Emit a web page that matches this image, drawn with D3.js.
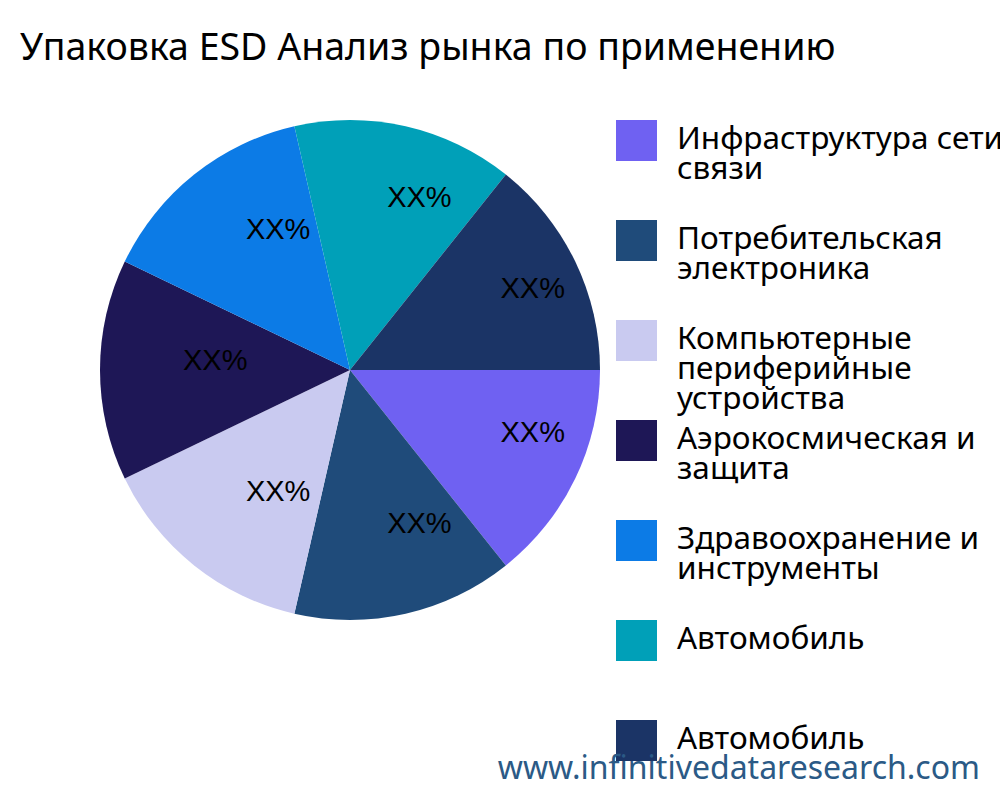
<!DOCTYPE html>
<html><head><meta charset="utf-8">
<script src="https://cdn.jsdelivr.net/npm/d3@7"></script>
<style>body{margin:0;background:#fff}</style>
</head><body>
<svg id="chart" width="1000" height="800"></svg>
<script>
const categories = [
  ['Инфраструктура сети', 'связи'],
  ['Потребительская', 'электроника'],
  ['Компьютерные', 'периферийные', 'устройства'],
  ['Аэрокосмическая и', 'защита'],
  ['Здравоохранение и', 'инструменты'],
  ['Автомобиль'],
  ['Автомобиль']
];
const values = [1, 1, 1, 1, 1, 1, 1];
const labels = ['XX%', 'XX%', 'XX%', 'XX%', 'XX%', 'XX%', 'XX%'];
const colors = ['#6f61f2', '#1f4b7a', '#c9caf0', '#1e1756', '#0c7be6', '#00a0b8', '#1b3466'];

const svg = d3.select('#chart');

svg.append('text')
  .attr('x', 20).attr('y', 60)
  .attr('font-family', 'Noto Sans').attr('font-size', 37.5)
  .text('Упаковка ESD Анализ рынка по применению');

const radius = 250;
const g = svg.append('g').attr('transform', 'translate(350,370)');

// slices start at 3 o'clock and run clockwise
const pie = d3.pie().sort(null).startAngle(Math.PI / 2).endAngle(Math.PI / 2 + 2 * Math.PI);
const arcs = pie(values);
const arc = d3.arc().innerRadius(0).outerRadius(radius);
const labelArc = d3.arc().innerRadius(167).outerRadius(167);

g.selectAll('path').data(arcs).enter().append('path')
  .attr('d', arc)
  .attr('fill', (d, i) => colors[i]);

// label text starts at the centroid, baseline on it
g.selectAll('text').data(arcs).enter().append('text')
  .attr('transform', d => `translate(${labelArc.centroid(d)})`)
  .attr('font-family', 'Liberation Sans, Arial').attr('font-size', 29)
  .text((d, i) => labels[i]);

const legend = svg.append('g');
categories.forEach((lines, i) => {
  const y = 120 + i * 100;
  legend.append('rect').attr('x', 616).attr('y', y).attr('width', 41).attr('height', 41)
    .attr('fill', colors[i]);
  const t = legend.append('text')
    .attr('x', 677).attr('y', y + 29)
    .attr('font-family', 'Noto Sans').attr('font-size', 31.5);
  lines.forEach((l, j) => {
    t.append('tspan').attr('x', 677).attr('dy', j === 0 ? 0 : 30).text(l);
  });
});

svg.append('text')
  .attr('x', 980).attr('y', 779).attr('text-anchor', 'end')
  .attr('font-family', 'Noto Sans').attr('font-size', 32)
  .attr('fill', '#2b5a86')
  .text('www.infinitivedataresearch.com');
</script>
</body></html>
